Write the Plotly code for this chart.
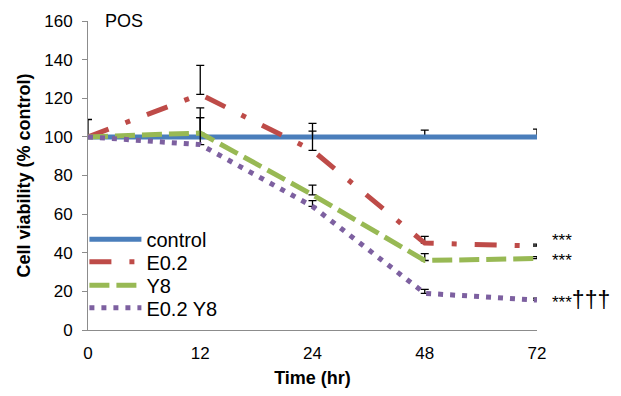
import plotly.graph_objects as go

time_labels = ["0", "12", "24", "48", "72"]
x_idx = [0, 1, 2, 3, 4]

control = [100, 100, 100, 100, 100]
e02 = [100, 122, 93, 45, 43.5]
y8 = [100, 102, 70, 36, 37]
e02_y8 = [100, 96, 64, 19, 15.5]

control_err = [9, 10, 3, 3.5, 4]
e02_err = [0, 15, 14, 3.5, 1]
y8_err = [0, 13, 5, 3.5, 1]
e02_y8_err = [0, 14, 3, 2, 1]

sig_labels = ["***", "***", "***<span style='font-size:23px'>†††</span>"]
sig_y = [46.5, 36, 15.5]

FONT = "Liberation Sans, Arial, sans-serif"

series = [
    ("control", control, control_err, "#4A7EBB", "solid"),
    ("E0.2", e02, e02_err, "#BE4B48", "22px,18px,5px,18px"),
    ("Y8", y8, y8_err, "#98B954", "20px,7px"),
    ("E0.2 Y8", e02_y8, e02_y8_err, "#7D60A0", "5px,7px"),
]
legend_ids = ["legend", "legend2", "legend3", "legend4"]
legend_y = [0.294, 0.221, 0.145, 0.072]

fig = go.Figure()
for (name, vals, err, color, dash), lid in zip(series, legend_ids):
    fig.add_trace(go.Scatter(
        x=x_idx, y=vals, name=name, mode="lines", legend=lid,
        line=dict(color=color, width=5, dash=dash),
        error_y=dict(type="data", symmetric=False, array=err,
                     arrayminus=[0] * len(err), color="black",
                     thickness=1.3, width=4),
    ))

for lbl, yv in zip(sig_labels, sig_y):
    fig.add_annotation(x=1.03, xref="paper", y=yv, yref="y",
                       text=lbl, showarrow=False, xanchor="left",
                       yanchor="middle", font=dict(family=FONT, size=17, color="black"))

fig.add_annotation(x=0.033, xref="paper", y=1.0, yref="paper", text="POS",
                   showarrow=False, xanchor="left", yanchor="middle",
                   font=dict(family=FONT, size=18, color="black"))

legend_style = dict(xanchor="left", yanchor="middle", bgcolor="rgba(0,0,0,0)",
                    font=dict(family=FONT, size=20, color="black"), itemwidth=52,
                    borderwidth=0)
layout_legends = {}
for lid, ly in zip(legend_ids, legend_y):
    layout_legends[lid] = dict(x=-0.008, y=ly, **legend_style)

fig.update_layout(
    width=621, height=396,
    margin=dict(l=88, r=84, t=15, b=65),
    paper_bgcolor="white", plot_bgcolor="white",
    font=dict(family=FONT, size=17, color="black"),
    showlegend=True,
    xaxis=dict(range=[0, 4], tickmode="array", tickvals=x_idx, ticktext=time_labels,
               showgrid=False, zeroline=False, showline=True, linecolor="#8C8C8C",
               linewidth=1, ticks="", tickfont=dict(size=17), ticklabelstandoff=8,
               title=dict(text="<b>Time (hr)</b>", font=dict(size=18), standoff=8)),
    yaxis=dict(range=[0, 160], tickmode="array", tickvals=list(range(0, 161, 20)),
               showgrid=False, zeroline=False, showline=True, linecolor="#8C8C8C",
               linewidth=1, ticks="outside", ticklen=5, tickcolor="#8C8C8C",
               tickfont=dict(size=17), ticklabelstandoff=6,
               title=dict(text="<b>Cell viability (% control)</b>", font=dict(size=18), standoff=8)),
    **layout_legends,
)

fig.write_html("out.html")
